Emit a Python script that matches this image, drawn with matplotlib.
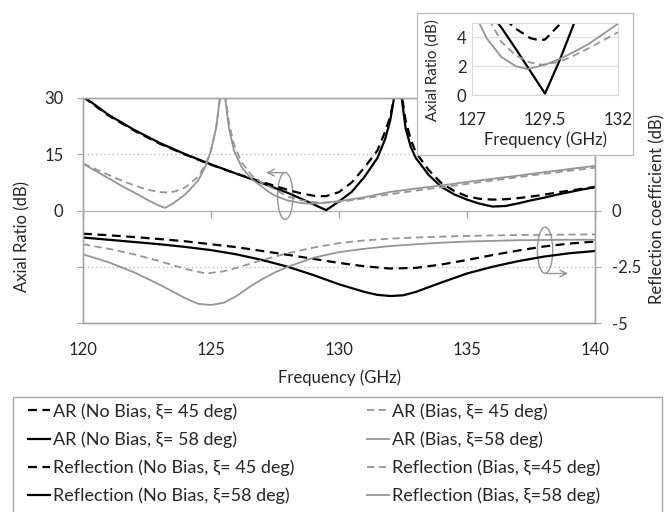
import numpy as np
import matplotlib
matplotlib.use('Agg')
import matplotlib.pyplot as plt
from matplotlib.patches import Ellipse, Rectangle
from matplotlib.ticker import FuncFormatter

plt.rcParams['font.family'] = ['Lato', 'DejaVu Sans']
plt.rcParams['font.size'] = 12

# --- axial ratio (dB), left axis ---
f_ar_nb45 = [120, 121, 122, 123, 124, 125, 126, 127, 128, 128.5, 129, 129.3, 129.5, 130, 130.5,
             131, 131.5, 131.8, 132, 132.15, 132.3, 132.45, 132.6, 132.8, 133, 133.5, 134,
             134.5, 135, 135.5, 136, 136.5, 137, 137.5, 138, 138.5, 139, 139.5, 140]
ar_nb45 = [30.3, 25.3, 21.3, 17.8, 14.9, 12.2, 9.8, 7.6, 5.5, 4.6, 3.95, 3.8, 3.85, 4.9, 7.5,
           11.5, 16, 21, 25, 30, 45, 31, 24, 19, 15.5, 10.8, 7.3,
           5.2, 3.8, 3.1, 2.9, 3.0, 3.3, 3.7, 4.2, 4.8, 5.3, 5.8, 6.3]

f_ar_nb58 = [120, 121, 122, 123, 124, 125, 126, 127, 128, 128.5, 129, 129.5, 130, 130.5,
             131, 131.5, 131.8, 132, 132.15, 132.3, 132.45, 132.6, 132.8, 133, 133.5, 134,
             134.5, 135, 135.5, 136, 136.5, 137, 137.5, 138, 138.5, 139, 139.5, 140]
ar_nb58 = [30.5, 25.5, 21.5, 18, 15, 12.3, 9.8, 7.3, 4.7, 3.2, 1.65, 0.1, 2.4, 5.0,
           9, 14, 19, 24, 30, 45, 30, 22, 17, 14, 9.5, 6.3,
           4.3, 2.9, 1.8, 1.05, 1.2, 1.9, 2.7, 3.4, 4.2, 4.9, 5.6, 6.2]

f_ar_b45 = [120, 120.5, 121, 121.5, 122, 122.5, 123, 123.3, 123.6, 124, 124.5, 124.8, 125,
            125.2, 125.35, 125.45, 125.55, 125.7, 125.9, 126.2, 126.6, 127, 127.5, 128,
            128.5, 129, 129.4, 130, 130.5, 131, 131.5, 132, 133, 134, 135, 136, 137, 138,
            139, 140]
ar_b45 = [12.5, 11, 9.5, 8, 6.7, 5.6, 4.9, 4.8, 5.1, 6.2, 9, 12.5, 16,
          22, 30, 45, 31, 23.5, 17.5, 12.8, 9.3, 7.3, 5.6, 3.7,
          2.75, 2.25, 2.1, 2.3, 2.75, 3.25, 3.8, 4.35, 5.3, 6.2, 7.1, 8.0, 8.9, 9.8,
          10.6, 11.4]

f_ar_b58 = [120, 120.5, 121, 121.5, 122, 122.5, 123, 123.2, 123.5, 124, 124.5, 124.8, 125,
            125.2, 125.35, 125.45, 125.55, 125.7, 125.9, 126.2, 126.6, 127, 127.25, 127.5,
            128, 128.5, 128.9, 129.5, 130, 130.5, 131, 131.5, 132, 133, 134, 135, 136, 137,
            138, 139, 140]
ar_b58 = [12.5, 10.5, 8.6, 6.6, 4.8, 2.9, 1.2, 0.7, 1.8, 4.3, 8, 12, 16,
          22, 30, 45, 30, 22, 16, 11.5, 8.3, 6.3, 5.0, 3.95,
          2.65, 2.0, 1.8, 2.1, 2.5, 3.0, 3.55, 4.25, 4.95, 5.85, 6.7, 7.6, 8.45, 9.3,
          10.2, 11.05, 11.9]

# --- reflection coefficient (dB), right axis ---
f_rf_nb45 = [120, 121, 122, 123, 124, 125, 126, 127, 128, 129, 130, 131, 132, 133, 134,
             135, 136, 137, 138, 139, 140]
rf_nb45 = [-1.03, -1.1, -1.18, -1.27, -1.37, -1.5, -1.63, -1.8, -1.97, -2.15, -2.33, -2.48,
           -2.58, -2.55, -2.4, -2.2, -1.98, -1.78, -1.6, -1.47, -1.38]

f_rf_nb58 = [120, 121, 122, 123, 124, 125, 126, 127, 128, 129, 130, 131, 131.5, 132, 132.5,
             133, 134, 135, 136, 137, 138, 139, 140]
rf_nb58 = [-1.2, -1.3, -1.4, -1.5, -1.62, -1.76, -1.95, -2.2, -2.5, -2.87, -3.28, -3.62,
           -3.75, -3.8, -3.77, -3.62, -3.2, -2.8, -2.5, -2.25, -2.05, -1.9, -1.8]

f_rf_b45 = [120, 121, 122, 123, 124, 124.8, 125.5, 126, 127, 128, 129, 130, 131, 132, 133,
            134, 135, 136, 137, 138, 139, 140]
rf_b45 = [-1.5, -1.7, -1.95, -2.25, -2.6, -2.8, -2.7, -2.55, -2.2, -1.9, -1.65, -1.45, -1.33,
          -1.25, -1.2, -1.16, -1.13, -1.11, -1.09, -1.08, -1.07, -1.06]

f_rf_b58 = [120, 121, 122, 123, 124, 124.5, 125, 125.5, 126, 126.5, 127, 127.5, 128, 129,
            130, 131, 132, 133, 134, 135, 136, 137, 138, 139, 140]
rf_b58 = [-1.95, -2.3, -2.75, -3.3, -3.9, -4.15, -4.2, -4.1, -3.8, -3.4, -3.05, -2.75, -2.5,
          -2.1, -1.85, -1.7, -1.58, -1.5, -1.43, -1.38, -1.35, -1.32, -1.31, -1.3, -1.3]

labels = ['AR (No Bias, ξ= 45 deg)', 'AR (No Bias, ξ= 58 deg)',
          'Reflection (No Bias, ξ= 45 deg)', 'Reflection (No Bias, ξ=58 deg)',
          'AR (Bias, ξ= 45 deg)', 'AR (Bias, ξ=58 deg)',
          'Reflection (Bias, ξ=45 deg)', 'Reflection (Bias, ξ=58 deg)']

BLACK = '#000000'
GREY = '#959595'
AXC = '#a6a6a6'
TXT = '#262626'
DASH = (4, 2.5)

W, H = 667, 512
fig = plt.figure(figsize=(W / 100, H / 100), dpi=100)


def fx(px):
    return px / W


def fy(py):
    return 1 - py / H


ax = fig.add_axes([fx(83), fy(323), fx(595) - fx(83), fy(98) - fy(323)])
ax2 = ax.twinx()

l1, = ax.plot(f_ar_nb45, ar_nb45, color=BLACK, lw=1.6, dashes=DASH)
l2, = ax.plot(f_ar_nb58, ar_nb58, color=BLACK, lw=1.6)
l5, = ax.plot(f_ar_b45, ar_b45, color=GREY, lw=1.3, dashes=DASH)
l6, = ax.plot(f_ar_b58, ar_b58, color=GREY, lw=1.3)
l3, = ax2.plot(f_rf_nb45, rf_nb45, color=BLACK, lw=1.6, dashes=DASH)
l4, = ax2.plot(f_rf_nb58, rf_nb58, color=BLACK, lw=1.6)
l7, = ax2.plot(f_rf_b45, rf_b45, color=GREY, lw=1.3, dashes=DASH)
l8, = ax2.plot(f_rf_b58, rf_b58, color=GREY, lw=1.3)

ax.set_xlim(120, 140)
ax.set_ylim(-30, 30)
ax2.set_ylim(-5, 5)
ax.set_xticks([120, 125, 130, 135, 140])
ax.set_yticks([-30, -15, 0, 15, 30])
ax2.set_yticks([-5, -2.5, 0, 2.5, 5])
ax.yaxis.set_major_formatter(FuncFormatter(lambda v, p: f'{v:g}' if v >= 0 else ''))
ax2.yaxis.set_major_formatter(FuncFormatter(lambda v, p: f'{v:g}' if v <= 0 else ''))
ax.yaxis.grid(True, linestyle=(0, (1, 2)), color='#bdbdbd', lw=1)
ax.set_axisbelow(True)

for a in (ax, ax2):
    for s in a.spines.values():
        s.set_color(AXC)
        s.set_linewidth(1)
ax.tick_params(axis='x', length=0, pad=14, colors=TXT, labelsize=12)
ax.tick_params(axis='y', length=4, pad=10, color=AXC, labelcolor=TXT, labelsize=12)
ax2.tick_params(axis='y', length=4, pad=8, color=AXC, labelcolor=TXT, labelsize=12)

# horizontal axis line at 0 dB with tick marks
sec = ax.secondary_xaxis(0.5)
sec.set_alignment('bottom')
sec.set_xticks([120, 125, 130, 135, 140])
sec.tick_params(axis='x', length=5, width=1, color=AXC, labelbottom=False)
sec.spines['bottom'].set_color(AXC)

# ellipses marking which axis the curves belong to
ax.add_patch(Ellipse((127.9, 3.85), 0.6, 12.5, fill=False, edgecolor=GREY, lw=1))
ax.annotate('', xy=(127.15, 10.1), xytext=(127.9, 10.1),
            arrowprops=dict(arrowstyle='->', color=GREY, lw=1, shrinkA=0, shrinkB=0))
ax.add_patch(Ellipse((138.05, -10.6), 0.6, 12.3, fill=False, edgecolor=GREY, lw=1))
ax.annotate('', xy=(138.95, -16.8), xytext=(138.05, -16.8),
            arrowprops=dict(arrowstyle='->', color=GREY, lw=1, shrinkA=0, shrinkB=0))

fig.text(fx(339), fy(378), 'Frequency (GHz)', ha='center', va='center', color=TXT)
fig.text(fx(22), fy(236), 'Axial Ratio (dB)', ha='center', va='center', rotation=90, color=TXT)
fig.text(fx(657), fy(209), 'Reflection coefficient (dB)', ha='center', va='center',
         rotation=90, color=TXT)

# inset
fig.add_artist(Rectangle((fx(417), fy(155)), fx(633) - fx(417), fy(13) - fy(155),
                         transform=fig.transFigure, facecolor='white', edgecolor='#bfbfbf',
                         lw=1, zorder=1))
ins = fig.add_axes([fx(472), fy(95), fx(618) - fx(472), fy(23) - fy(95)], zorder=2)
ins.plot(f_ar_nb45, ar_nb45, color=BLACK, lw=1.6, dashes=DASH)
ins.plot(f_ar_nb58, ar_nb58, color=BLACK, lw=1.6)
ins.plot(f_ar_b45, ar_b45, color=GREY, lw=1.3, dashes=DASH)
ins.plot(f_ar_b58, ar_b58, color=GREY, lw=1.3)
ins.set_xlim(127, 132)
ins.set_ylim(0, 5)
ins.set_xticks([127, 129.5, 132])
ins.set_yticks([0, 2, 4])
ins.xaxis.set_major_formatter(FuncFormatter(lambda v, p: f'{v:g}'))
ins.yaxis.grid(True, color='#e3e3e3', lw=1)
ins.set_axisbelow(True)
for s in ins.spines.values():
    s.set_color('#d9d9d9')
ins.tick_params(axis='x', length=0, pad=12, colors=TXT, labelsize=12)
ins.tick_params(axis='y', length=0, pad=4, colors=TXT, labelsize=12)
fig.text(fx(545), fy(140), 'Frequency (GHz)', ha='center', va='center', color=TXT, zorder=3)
fig.text(fx(433), fy(70), 'Axial Ratio (dB)', ha='center', va='center', rotation=90,
         color=TXT, fontsize=11, zorder=3)

# legend
fig.add_artist(Rectangle((fx(13), fy(520)), fx(662) - fx(13), fy(397) - fy(520),
                         transform=fig.transFigure, facecolor='none', edgecolor=AXC, lw=1))
fig.legend([l1, l2, l3, l4, l5, l6, l7, l8], labels, ncol=2, loc='upper left',
           bbox_to_anchor=(fx(28), fy(403)), frameon=False, borderpad=0, borderaxespad=0,
           handlelength=1.2, handletextpad=0.2, labelspacing=0.65, columnspacing=4.0,
           labelcolor=TXT, fontsize=13)

fig.savefig('out.png', dpi=100)
